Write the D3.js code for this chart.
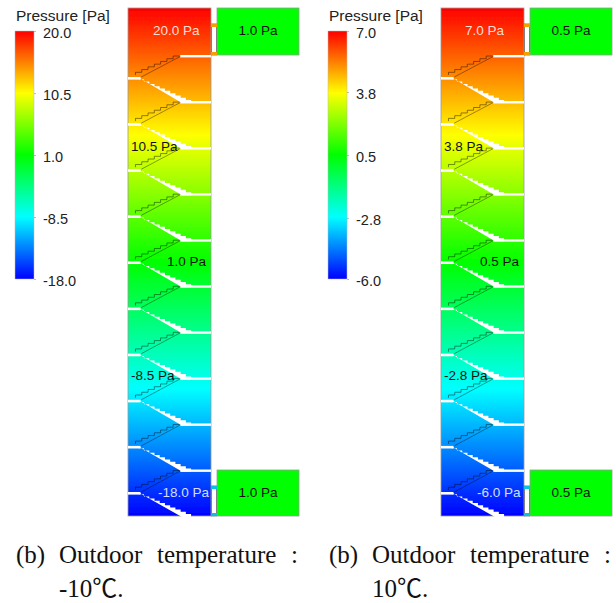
<!DOCTYPE html>
<html>
<head>
<meta charset="utf-8">
<script src="https://cdn.jsdelivr.net/npm/d3@7"></script>
<style>
  html, body { margin: 0; padding: 0; background: #fff; }
  svg { display: block; }
  text { font-family: "Liberation Sans", Arial, sans-serif; }
  .caption { font-size: 25px; fill: #111; }
</style>
</head>
<body>
<svg id="chart" width="616" height="603"></svg>
<script>
// pressure values
const legendTitle = "Pressure [Pa]";
const ticksCold = [20.0, 10.5, 1.0, -8.5, -18.0];
const ticksWarm = [7.0, 3.8, 0.5, -2.8, -6.0];
const rampColors = ["#ff0000", "#ffff00", "#00ff00", "#00ffff", "#0000ff"];

// labels inside the stairwell, top to bottom, and the two outside rooms
const stairLabelsCold = [20.0, 10.5, 1.0, -8.5, -18.0];
const stairLabelsWarm = [7.0, 3.8, 0.5, -2.8, -6.0];
const outdoorCold = 1.0;
const outdoorWarm = 0.5;

const captionCold = ["(b)", "Outdoor", "temperature", ":", "-10℃."];
const captionWarm = ["(b)", "Outdoor", "temperature", ":", "10℃."];

const floorCount = 10;

// layout
const towerTop = 8, towerBottom = 516;
const legendTop = 31, legendBottom = 279, legendWidth = 19;
const towerWidth = 83, roomWidth = 82;
const labelDx = [[25, 3, 39, 3, 30], [24, 3, 39, 3, 36]];
const labelCy = [30, 146, 261, 375, 492];

const fmt = v => v.toFixed(1);

const svg = d3.select("#chart");
const defs = svg.append("defs");
defs.append("filter").attr("id", "soft")
    .append("feGaussianBlur").attr("stdDeviation", 0.4);

function drawPanel(cfg) {
    const ticks = cfg.ticks;
    const color = d3.scaleLinear().domain(ticks).range(rampColors);
    const yLegend = d3.scaleLinear().domain([ticks[0], ticks[4]]).range([legendTop, legendBottom]);

    const g = svg.append("g");

    // same ramp for the legend bar and for the tower
    const addGradient = (id, y1, y2) => {
        const grad = defs.append("linearGradient")
            .attr("id", id)
            .attr("gradientUnits", "userSpaceOnUse")
            .attr("x1", 0).attr("x2", 0)
            .attr("y1", y1).attr("y2", y2);
        ticks.forEach((t, i) => {
            grad.append("stop")
                .attr("offset", i / (ticks.length - 1))
                .attr("stop-color", color(t));
        });
    };
    addGradient(cfg.id + "-legend", legendTop, legendBottom);
    addGradient(cfg.id + "-tower", towerTop, towerBottom);

    // legend
    g.append("text")
        .attr("x", cfg.legendX + 1)
        .attr("y", 21)
        .style("font-size", "15.5px")
        .attr("fill", "#222")
        .text(legendTitle);

    g.append("rect")
        .attr("x", cfg.legendX)
        .attr("y", legendTop)
        .attr("width", legendWidth)
        .attr("height", legendBottom - legendTop)
        .attr("fill", `url(#${cfg.id}-legend)`)
        .attr("stroke", "#bbb")
        .attr("stroke-width", 0.5);

    const axis = g.append("g")
        .attr("transform", `translate(${cfg.legendX + legendWidth},0)`)
        .call(d3.axisRight(yLegend).tickValues(ticks).tickFormat(fmt).tickSize(2).tickPadding(7));
    axis.select(".domain").remove();
    axis.selectAll("line").attr("stroke", "#bbb");
    axis.selectAll("text")
        .attr("y", 2)
        .style("font-family", '"Liberation Sans", Arial, sans-serif')
        .style("font-size", "14.5px")
        .attr("fill", "#222");

    // stairwell
    const tx = cfg.towerX;
    const x = d3.scaleLinear().domain([0, 1]).range([tx, tx + towerWidth]);
    const slabY = d3.scaleLinear().domain([0, floorCount - 1]).range([56, 470.5]);
    const landY = d3.scaleLinear().domain([0, floorCount - 1]).range([78, 493]);
    const tower = g.append("g").attr("filter", "url(#soft)");

    tower.append("rect")
        .attr("x", x(0))
        .attr("y", towerTop)
        .attr("width", towerWidth)
        .attr("height", towerBottom - towerTop)
        .attr("fill", `url(#${cfg.id}-tower)`)
        .attr("stroke", "#999")
        .attr("stroke-width", 0.8);

    const line = d3.line();
    d3.range(floorCount).forEach(i => {
        const s = slabY(i), l = landY(i);
        const next = i < floorCount - 1 ? slabY(i + 1) : towerBottom;

        // thin outline of the flight going up to the slab
        const steps = 7;
        const stepX = d3.interpolate(x(0.09), x(0.62));
        const stepY = d3.interpolate(l - 3, s);
        const zig = [];
        d3.range(steps).forEach(k => {
            zig.push([stepX(k / steps), stepY(k / steps)]);
            zig.push([stepX(k / steps), stepY((k + 1) / steps)]);
        });
        zig.push([stepX(1), stepY(1)]);
        tower.append("path")
            .attr("d", line(zig))
            .attr("fill", "none")
            .attr("stroke", "#000")
            .attr("stroke-opacity", 0.55)
            .attr("stroke-width", 0.8);
        tower.append("path")
            .attr("d", line([[x(0.64), s], [x(0.16), l - 1]]))
            .attr("fill", "none")
            .attr("stroke", "#000")
            .attr("stroke-opacity", 0.55)
            .attr("stroke-width", 0.7);

        // white gaps: slab, landing and the flight below the landing
        tower.append("rect")
            .attr("x", x(0.63)).attr("y", s - 1)
            .attr("width", x(1) - x(0.63)).attr("height", 2.4)
            .attr("fill", "#fff");
        tower.append("rect")
            .attr("x", x(0)).attr("y", l - 1)
            .attr("width", x(0.15) - x(0)).attr("height", 2.6)
            .attr("fill", "#fff");

        const flight = 10;
        const treadX = d3.interpolate(x(0.13), x(0.76));
        const treadY = d3.interpolate(l - 1, next - 2);
        const stair = [[x(0.13), l - 1]];
        d3.range(flight).forEach(k => {
            stair.push([treadX(k / flight), treadY((k + 1) / flight)]);
            stair.push([treadX((k + 1) / flight), treadY((k + 1) / flight)]);
        });
        stair.push([x(0.76), next + 1], [x(0.65), next + 1], [x(0.17), l + 1.5]);
        tower.append("path")
            .attr("d", line(stair) + "Z")
            .attr("fill", "#fff");
    });

    // outside rooms and the door strips between them
    const rooms = [[towerTop, 55], [470, towerBottom]];
    rooms.forEach(([y0, y1]) => {
        const roomX = tx + towerWidth + 6;
        const upper = y0 === towerTop;
        tower.append("rect")
            .attr("x", roomX).attr("y", y0)
            .attr("width", roomWidth).attr("height", y1 - y0)
            .attr("fill", color(cfg.outdoor))
            .attr("stroke", "#999")
            .attr("stroke-width", 0.8);

        const doorTop = upper ? 24 : 486;
        const doorBottom = upper ? 55 : 516;
        const doorColor = upper ? "#f0a000" : "#10c0e0";
        tower.append("rect")
            .attr("x", x(1) + 0.5).attr("y", doorTop)
            .attr("width", 5).attr("height", doorBottom - doorTop)
            .attr("fill", "#fff")
            .attr("stroke", "#777")
            .attr("stroke-width", 0.9);
        tower.append("rect")
            .attr("x", x(1)).attr("y", doorTop)
            .attr("width", 6).attr("height", 3)
            .attr("fill", doorColor);
        tower.append("rect")
            .attr("x", x(1)).attr("y", doorBottom - 3)
            .attr("width", 6).attr("height", 3)
            .attr("fill", doorColor);

        g.append("text")
            .attr("x", roomX + roomWidth / 2)
            .attr("y", upper ? 30 : 492)
            .attr("dy", "0.35em")
            .attr("text-anchor", "middle")
            .style("font-size", "13.5px")
            .attr("fill", "#111")
            .text(fmt(cfg.outdoor) + " Pa");
    });

    // labels in the tower
    cfg.labels.forEach((v, i) => {
        const light = i === 0 || i === cfg.labels.length - 1;
        g.append("text")
            .attr("x", tx + labelDx[cfg.index][i])
            .attr("y", labelCy[i])
            .attr("dy", "0.35em")
            .style("font-size", "13.5px")
            .attr("fill", light ? "#fff" : "#111")
            .attr("fill-opacity", light ? 0.85 : 1)
            .text(fmt(v) + " Pa");
    });

    // caption, spread out like a justified column
    const cap = cfg.caption;
    const capX = [0, 43, 141, 275];
    cap.slice(0, 4).forEach((word, i) => {
        g.append("text").attr("class", "caption")
            .attr("x", cfg.legendX + 1 + capX[i])
            .attr("y", 563)
            .style("font-family", '"Liberation Serif", "Noto Sans CJK SC", serif')
            .text(word);
    });
    g.append("text").attr("class", "caption")
        .attr("x", cfg.legendX + 1 + capX[1])
        .attr("y", 597)
        .style("font-family", '"Liberation Serif", "Noto Sans CJK SC", serif')
        .text(cap[4]);
}

drawPanel({ id: "cold", index: 0, ticks: ticksCold, labels: stairLabelsCold, outdoor: outdoorCold,
            caption: captionCold, legendX: 15, towerX: 128 });
drawPanel({ id: "warm", index: 1, ticks: ticksWarm, labels: stairLabelsWarm, outdoor: outdoorWarm,
            caption: captionWarm, legendX: 328, towerX: 441 });
</script>
</body>
</html>
